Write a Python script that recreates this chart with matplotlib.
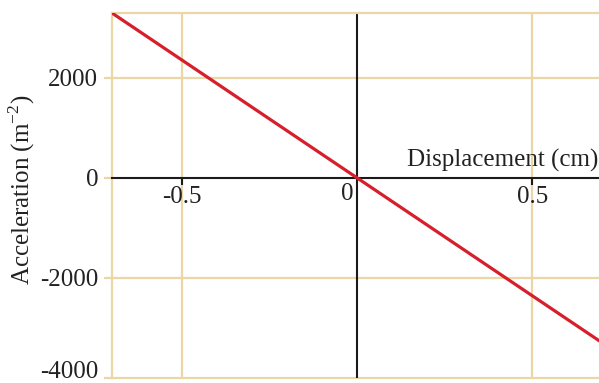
import matplotlib.pyplot as plt
import matplotlib.transforms as mtransforms

# a = -w^2 x, straight line through the origin
displacement = [-0.7, 0.7]
acceleration = [3300, -3300]

x_ticks = [-0.5, 0.5]
x_tick_labels = ['-0.5', '0.5']
y_ticks = [-4000, -2000, 0, 2000]
y_tick_labels = ['-4000', '-2000', '0', '2000']

tan = '#ecd6a5'
red = '#d71f2b'
ink = '#222222'
fs = 18

plt.rcParams['font.family'] = 'Liberation Serif'
plt.rcParams['mathtext.fontset'] = 'custom'
plt.rcParams['mathtext.rm'] = 'Liberation Serif'

fig = plt.figure(figsize=(5.99, 3.83), dpi=100)
ax = fig.add_axes([112 / 599, 5 / 383, 487 / 599, 365 / 383])
ax.set_xlim(-0.7, 0.69)
ax.set_ylim(-4000, 3300)

# frame: tan left/top, bottom spine moved up to y=0 as the x axis
ax.spines['right'].set_visible(False)
for s in ['left', 'top']:
    ax.spines[s].set_color(tan)
    ax.spines[s].set_linewidth(1.6)
ax.spines['bottom'].set_position(('data', 0))
ax.spines['bottom'].set_color('#1a1a1a')
ax.spines['bottom'].set_linewidth(1.5)

# grid lines
for v in x_ticks:
    ax.axvline(v, color=tan, lw=1.6, zorder=1)
for v in y_ticks:
    if v != 0:
        ax.axhline(v, color=tan, lw=1.6, zorder=1, clip_on=False)
ax.axvline(0, color='#1a1a1a', lw=1.5, zorder=2)

ax.plot(displacement, acceleration, color=red, lw=2.3, zorder=3, solid_capstyle='butt')

# y ticks at the left edge
ax.set_yticks(y_ticks)
ax.set_yticklabels(y_tick_labels, fontsize=fs, color=ink)
ax.tick_params(axis='y', length=6, width=1.6, color=tan, pad=4)
for t, v in zip(ax.yaxis.get_major_ticks(), y_ticks):
    if v == 0:
        t.tick1line.set_color('#1a1a1a')
    if v == min(y_ticks):
        # lift the bottom label so it stays inside the figure
        t.label1.set_transform(t.label1.get_transform() +
                               mtransforms.ScaledTranslation(0, 6 / 72, fig.dpi_scale_trans))

# x ticks hang below the zero line
ax.set_xticks(x_ticks)
ax.set_xticklabels(x_tick_labels, fontsize=fs, color=ink)
ax.tick_params(axis='x', length=5, width=1.5, color='#1a1a1a', pad=1)
ax.text(-0.012, -100, '0', fontsize=fs, color=ink, ha='right', va='top')

ax.text(0.688, 230, 'Displacement (cm)', fontsize=fs, color=ink,
        ha='right', va='baseline', zorder=4)
fig.text(22 / 599, 1 - 190 / 383, r'Acceleration (m$^{\mathregular{-2}}$)',
         fontsize=fs, color=ink, rotation=90, ha='center', va='center')

fig.savefig('out.png', dpi=100)
